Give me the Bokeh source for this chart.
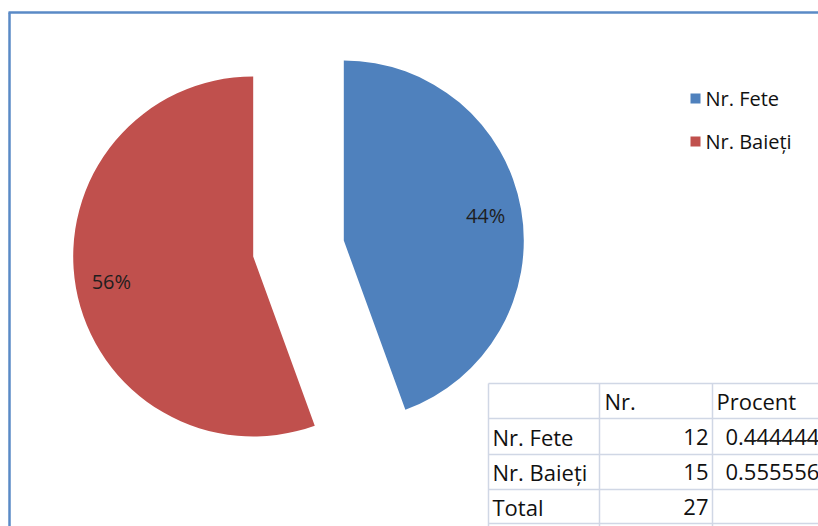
import math
from bokeh.plotting import figure
from bokeh.models import Range1d, ColumnDataSource
from bokeh.core.properties import value
from bokeh.embed import file_html
from bokeh.resources import INLINE

# ---- data ----
categories = ["Nr. Fete", "Nr. Baieți"]
counts = [12, 15]
colors = ["#4f81bd", "#c0504d"]
table_header = ["", "Nr.", "Procent"]
table_rows = ["Nr. Fete", "Nr. Baieți", "Total"]
total = sum(counts)
table_nr = counts + [total]
table_pct = [f"{c / total:.6f}" for c in counts] + [""]
pct_labels = [f"{round(100 * c / total)}%" for c in counts]

W, H = 818, 526
FONT = value("Open Sans")

p = figure(width=W, height=H, output_backend="svg", toolbar_location=None,
           x_range=Range1d(0, W), y_range=Range1d(0, H), min_border=0)
p.axis.visible = False
p.grid.visible = False
p.outline_line_color = None
p.background_fill_color = "white"


def px(X):
    return X


def py(Y):
    return H - Y


# ---- frame ----
p.segment(x0=[px(9), px(8)], y0=[py(12), py(12)], x1=[px(9), px(830)], y1=[py(540), py(12)],
          line_color="#5a8ac6", line_width=2.5)

# ---- exploded pie ----
R = 180
explode = 46
cx, cy = px(298), py(248)
start = math.pi / 2
xs, ys, sa, ea, lx, ly = [], [], [], [], [], []
for c in counts:
    sweep = 2 * math.pi * c / total
    end = start - sweep
    mid = (start + end) / 2
    ox = cx + explode * math.cos(mid)
    oy = cy + explode * math.sin(mid)
    xs.append(ox)
    ys.append(oy)
    sa.append(end)
    ea.append(start)
    lx.append(ox + 0.8 * R * math.cos(mid))
    ly.append(oy + 0.8 * R * math.sin(mid))
    start = end

src = ColumnDataSource(dict(x=xs, y=ys, s=sa, e=ea, color=colors))
p.wedge(x="x", y="y", radius=R, start_angle="s", end_angle="e", fill_color="color",
        line_color=None, source=src)
p.text(x=lx, y=ly, text=pct_labels, text_font=FONT, text_font_size="20px",
       text_color="#1e1e1e", text_align="center", text_baseline="middle")

# ---- legend ----
leg_x = px(690)
leg_y = [py(98 + 43 * i) for i in range(len(categories))]
p.rect(x=[leg_x + 5] * len(categories), y=leg_y, width=10, height=10,
       fill_color=colors, line_color=None)
p.text(x=[leg_x + 15] * len(categories), y=leg_y, text=categories, text_font=FONT,
       text_font_size="20px", text_color="#111111", text_align="left", text_baseline="middle")

# ---- table ----
grid_c = "#d0d7e5"
row_lines = [383, 418, 454, 489, 523]
col_lines = [488, 599, 712]
p.segment(x0=[px(488)] * len(row_lines), x1=[px(830)] * len(row_lines),
          y0=[py(Y) for Y in row_lines], y1=[py(Y) for Y in row_lines],
          line_color=grid_c, line_width=1.5)
p.segment(x0=[px(X) for X in col_lines], x1=[px(X) for X in col_lines],
          y0=[py(383)] * 3, y1=[py(540)] * 3, line_color=grid_c, line_width=1.5)

row_c = [py((row_lines[i] + row_lines[i + 1]) / 2) for i in range(4)]
TS = "22px"
p.text(x=[px(604), px(716)], y=[row_c[0]] * 2, text=table_header[1:], text_font=FONT,
       text_font_size=TS, text_color="#111111", text_align="left", text_baseline="middle")
p.text(x=[px(492)] * 3, y=row_c[1:], text=table_rows, text_font=FONT,
       text_font_size=TS, text_color="#111111", text_align="left", text_baseline="middle")
p.text(x=[px(708)] * 3, y=row_c[1:], text=[str(v) for v in table_nr], text_font=FONT,
       text_font_size=TS, text_color="#111111", text_align="right", text_baseline="middle")
p.text(x=[px(725)] * 3, y=row_c[1:], text=table_pct, text_font=FONT,
       text_font_size=TS, text_color="#111111", text_align="left", text_baseline="middle")
p.segment(x0=[px(747)], x1=[px(830)], y0=[py(440)], y1=[py(440)], line_color="#222222", line_width=1.2)

open("out.html", "w").write(file_html(p, INLINE))
